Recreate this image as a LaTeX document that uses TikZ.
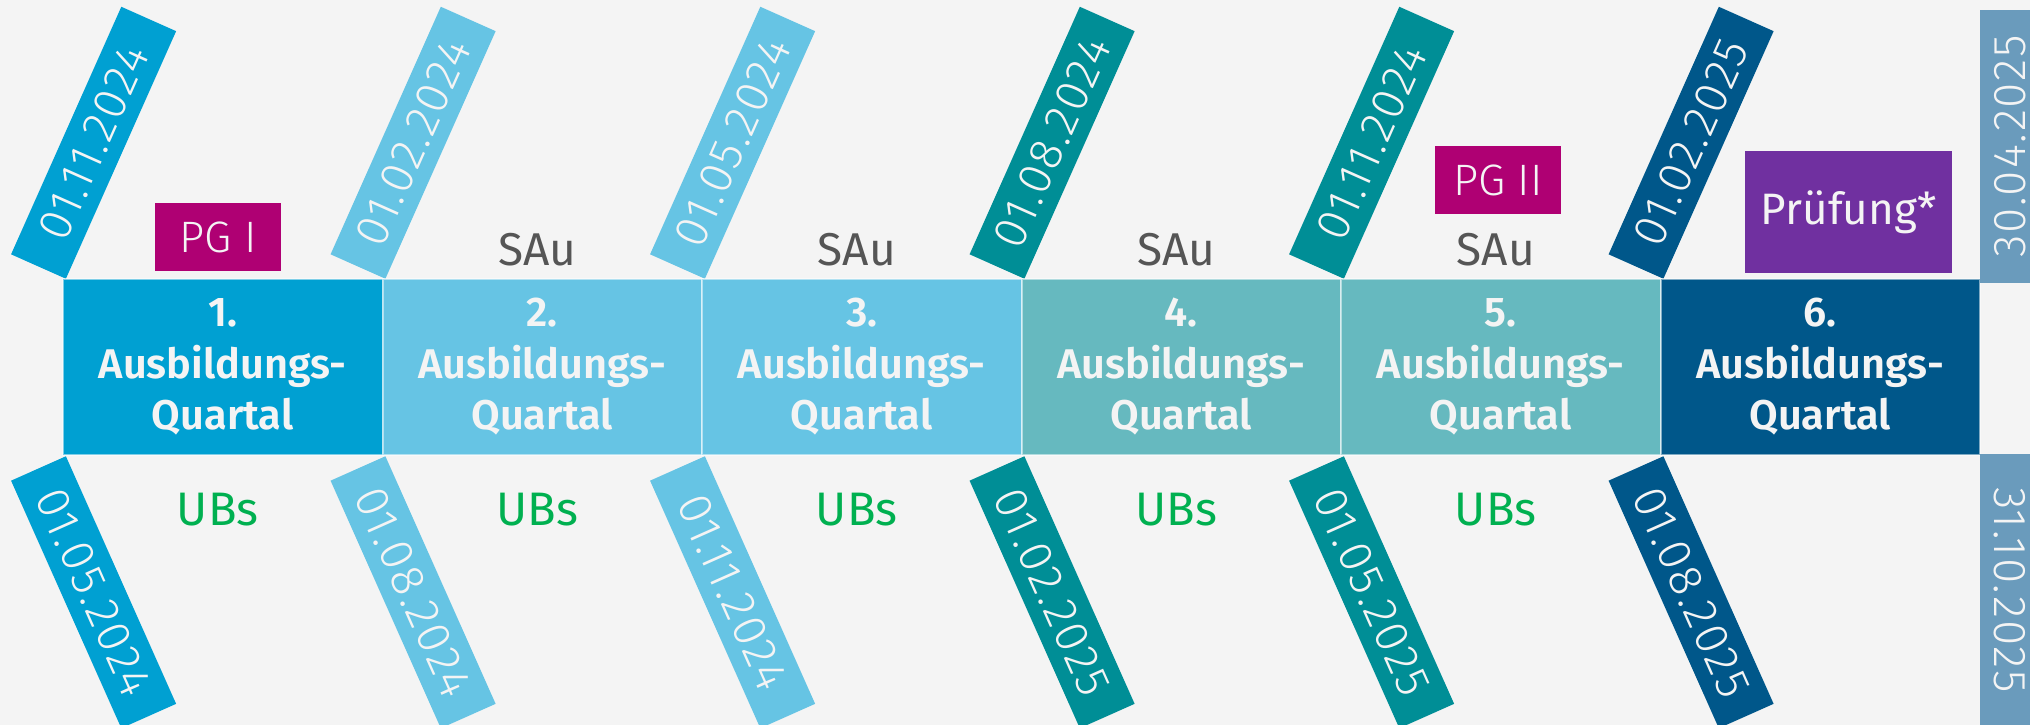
\documentclass[tikz,border=0pt]{standalone}
\usepackage{fontspec}
\setmainfont{Fira Sans}
\newfontfamily\lightfont{Fira Sans Light}
\newfontfamily\datefont[LetterSpace=4]{Fira Sans Light}
\newfontfamily\semibfont{Fira Sans SemiBold}
\definecolor{bg}{HTML}{F4F4F4}
\definecolor{qa}{HTML}{00A0D2}
\definecolor{qb}{HTML}{66C4E4}
\definecolor{qc}{HTML}{66B9BF}
\definecolor{qcd}{HTML}{008E96}
\definecolor{qd}{HTML}{00578A}
\definecolor{endc}{HTML}{6A9BBC}
\definecolor{pgc}{HTML}{AF0073}
\definecolor{prc}{HTML}{7030A0}
\definecolor{sauc}{HTML}{555555}
\definecolor{ubsc}{HTML}{00B050}
\begin{document}
\begin{tikzpicture}[x=1pt,y=-1pt,
  qbox/.style={draw=white, draw opacity=0.5, line width=2, inner sep=0,
    minimum width=319.5, minimum height=176, align=center, text=bg,
    font=\semibfont\fontsize{41.5}{51.5}\selectfont},
  datetop/.style={rotate=66, anchor=south west, minimum width=271,
    minimum height=60, inner sep=0, text=bg,
    font=\datefont\fontsize{47}{47}\selectfont},
  datebot/.style={rotate=-66, anchor=north west, minimum width=271,
    minimum height=60, inner sep=0, text=bg,
    font=\datefont\fontsize{47}{47}\selectfont},
  endbox/.style={fill=endc, minimum width=273, minimum height=60,
    inner sep=0, text=bg, font=\datefont\fontsize{46}{46}\selectfont},
  pgbox/.style={fill=pgc, minimum width=126, minimum height=68, inner sep=0,
    text=bg, font=\lightfont\fontsize{44}{44}\selectfont},
  saulbl/.style={anchor=base, inner sep=0, text=sauc,
    font=\fontsize{46}{46}\selectfont},
  ubslbl/.style={anchor=base, inner sep=0, text=ubsc,
    font=\fontsize{47}{47}\selectfont}
]
\clip (0,0) rectangle (2030,725);
\fill[bg] (0,0) rectangle (2030,725);
\foreach \i/\cx/\bc/\lc/\dt/\db in {
  1/222.75/qa/qa/01.11.2024/01.05.2024,
  2/542.25/qb/qb/01.02.2024/01.08.2024,
  3/861.75/qb/qb/01.05.2024/01.11.2024,
  4/1181.25/qc/qcd/01.08.2024/01.02.2025,
  5/1500.75/qc/qcd/01.11.2024/01.05.2025,
  6/1820.25/qd/qd/01.02.2025/01.08.2025}{
  \node[datetop, fill=\lc] (t\i) at ({\cx-156.75},279) {\dt};
  \node[datebot, fill=\lc] (b\i) at ({\cx-156.75},456) {\db};
  \node[qbox, fill=\bc] (q\i) at (\cx,367) {\i.\\Ausbildungs-\\Quartal};
}
\foreach \i/\cx in {2/542.25,3/861.75,4/1181.25,5/1500.75}{
  \node[saulbl] (s\i) at ({\cx-5},265) {SAu};
}
\foreach \i/\cx in {1/222.75,2/542.25,3/861.75,4/1181.25,5/1500.75}{
  \node[ubslbl] (u\i) at ({\cx-5},525) {UBs};
}
\node[pgbox] (pg1) at (218,237) {PG I};
\node[pgbox] (pg2) at (1498,180) {PG II};
\node[fill=prc, minimum width=207, minimum height=122, inner sep=0, text=bg,
  font=\fontsize{44}{44}\selectfont] (pruef) at (1848.5,212) {Prüfung*};
\node[endbox, rotate=90] (end1) at (2010,146.5) {30.04.2025};
\node[endbox, rotate=-90] (end2) at (2010,590) {31.10.2025};
\end{tikzpicture}
\end{document}
